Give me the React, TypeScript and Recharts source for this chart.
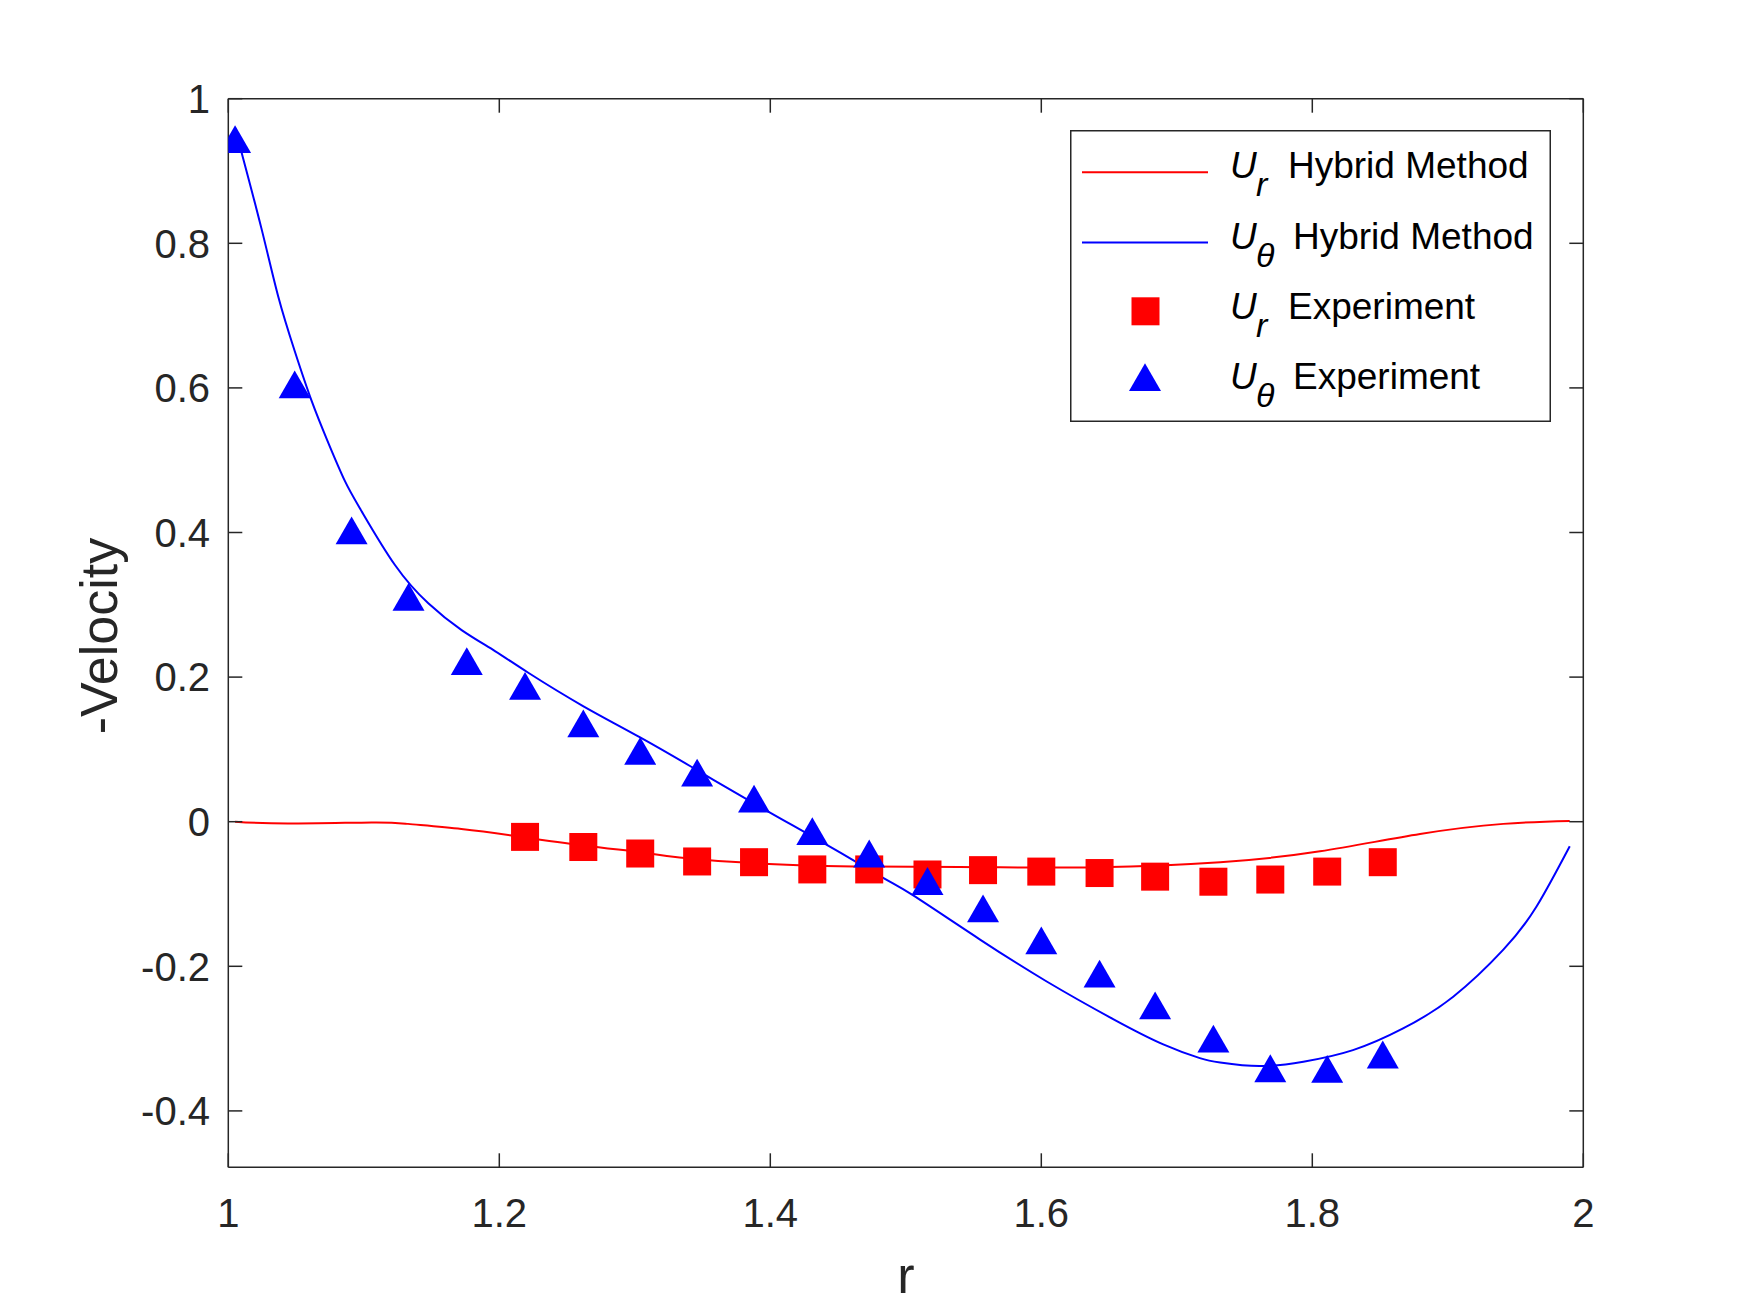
import React from 'react';
import { ComposedChart, Line, Scatter, XAxis, YAxis, Legend } from 'recharts';

const font = "'Liberation Sans', Arial, Helvetica, sans-serif";

const xTicks = [1, 1.2, 1.4, 1.6, 1.8, 2];
const yTicks = [-0.4, -0.2, 0, 0.2, 0.4, 0.6, 0.8, 1];

const legendOrder = ['U_r Hybrid Method', 'U_θ Hybrid Method', 'U_r Experiment', 'U_θ Experiment'];

// U_theta, hybrid method (blue curve)
const uThetaCurveR = [
  1.005, 1.0096, 1.0244, 1.0369, 1.049, 1.0613, 1.0738, 1.0861, 1.0985, 1.123, 1.1476,
  1.1722, 1.1968, 1.2214, 1.2618, 1.3036, 1.3417, 1.358, 1.3985, 1.4417, 1.4836, 1.5055,
  1.5548, 1.604, 1.653, 1.69, 1.717, 1.732, 1.761, 1.7934, 1.83, 1.867, 1.904, 1.941,
  1.9656, 1.99,
];
const uThetaCurveV = [
  0.96, 0.927, 0.821, 0.726, 0.651, 0.583, 0.524, 0.471, 0.429, 0.355, 0.302,
  0.265, 0.236, 0.206, 0.16, 0.117, 0.076, 0.058, 0.014, -0.032, -0.078, -0.102,
  -0.163, -0.221, -0.273, -0.308, -0.327, -0.333, -0.338, -0.332, -0.316, -0.286, -0.242, -0.177,
  -0.117, -0.034,
];

// U_r, hybrid method (red curve)
const uRCurveR = [
  1.005, 1.044, 1.1057, 1.1326, 1.172, 1.209, 1.262, 1.3036, 1.333, 1.395, 1.473,
  1.557, 1.643, 1.732, 1.8057, 1.8795, 1.941, 1.99,
];
const uRCurveV = [
  0, -0.0025, -0.001, -0.003, -0.01, -0.019, -0.033, -0.042, -0.0495, -0.058, -0.062,
  -0.063, -0.063, -0.056, -0.041, -0.017, -0.003, 0.001,
];

// experiment
const expR = [
  1.005, 1.049, 1.091, 1.133, 1.176, 1.219, 1.262, 1.304, 1.346, 1.388, 1.431,
  1.473, 1.516, 1.557, 1.6, 1.643, 1.684, 1.727, 1.769, 1.811, 1.852,
];
const uThetaExp = [
  0.944, 0.605, 0.403, 0.311, 0.222, 0.188, 0.136, 0.098, 0.068, 0.032, -0.013,
  -0.044, -0.082, -0.12, -0.164, -0.21, -0.254, -0.3, -0.341, -0.342, -0.322,
];
const uRExp = [
  -0.021, -0.035, -0.044, -0.055, -0.056, -0.066, -0.066, -0.073, -0.067, -0.069,
  -0.071, -0.076, -0.083, -0.08, -0.069, -0.056,
];

const zip = (rs: number[], vs: number[]) => rs.map((r, i) => ({ r, v: vs[i] }));

const uThetaCurve = zip(uThetaCurveR, uThetaCurveV);
const uRCurve = zip(uRCurveR, uRCurveV);
const uThetaPts = zip(expR, uThetaExp);
const uRPts = zip(expR.slice(expR.length - uRExp.length), uRExp);

const Square = (p: any) => (
  <rect x={p.cx - 14} y={p.cy - 14} width={28} height={28} fill="#ff0000" />
);
const Tri = (p: any) => (
  <polygon
    points={`${p.cx},${p.cy - 13.9} ${p.cx + 16},${p.cy + 13.9} ${p.cx - 16},${p.cy + 13.9}`}
    fill="#0000ff"
  />
);

// mirrored axes only need the inward tick marks
const NoLabel = () => <g />;

const YTitle = ({ viewBox }: any) => {
  const x = viewBox.x + viewBox.width - 111.6;
  const y = viewBox.y + viewBox.height / 2 + 3;
  return (
    <text x={x} y={y} transform={`rotate(-90 ${x} ${y})`} textAnchor="middle"
      fontSize={52} fill="#262626" fontFamily={font}>
      -Velocity
    </text>
  );
};

function LegendBox({ payload }: any) {
  const items = [...(payload ?? [])]
    .filter((e: any) => legendOrder.includes(e.value))
    .sort((a: any, b: any) => legendOrder.indexOf(a.value) - legendOrder.indexOf(b.value));
  return (
    <svg width={481} height={292} style={{ display: 'block' }}>
      <rect x={0.75} y={0.75} width={479.5} height={290.5} fill="#fff" stroke="#262626" strokeWidth={1.5} />
      {items.map((e: any, i: number) => {
        const base = 48.3 + i * 70.3;
        const m = String(e.value).match(/^U_(\S+) (.*)$/);
        const sub = m ? m[1] : '';
        const rest = m ? m[2] : String(e.value);
        let icon = null;
        if (e.type === 'line') {
          icon = <line x1={12} x2={138} y1={base - 6} y2={base - 6} stroke={e.color} strokeWidth={2} />;
        } else if (e.type === 'square') {
          icon = <Square cx={75.5} cy={base - 7.6} />;
        } else {
          icon = <Tri cx={75} cy={base - 12} />;
        }
        return (
          <g key={i}>
            {icon}
            <text x={160} y={base} fontSize={37} fontFamily={font} fill="#000">
              <tspan fontStyle="italic">U</tspan>
              <tspan fontStyle="italic" fontSize={34} x={186} dy={18}>{sub}</tspan>
              <tspan x={sub === 'r' ? 218 : 223} dy={-18}>{rest}</tspan>
            </text>
          </g>
        );
      })}
    </svg>
  );
}

export default function App() {
  const tickStyle = { fill: '#262626', fontSize: 40, fontFamily: font };
  return (
    <div style={{ position: 'absolute', left: 0, top: 0, width: 1750, height: 1313, background: '#fff' }}>
      <ComposedChart width={1750} height={1313} margin={{ top: 97.7, right: 165.7, bottom: 0, left: 0 }}>
        <XAxis
          type="number" dataKey="r" domain={[1, 2]} ticks={xTicks} interval={0}
          allowDataOverflow height={145.7} tickSize={-14} tickMargin={45.3}
          tick={tickStyle} stroke="#262626" strokeWidth={1.5}
          label={{ value: 'r', position: 'insideBottom', offset: 20, fill: '#262626', fontSize: 52, fontFamily: font }}
        />
        <XAxis
          xAxisId="top" orientation="top" type="number" dataKey="r" domain={[1, 2]} ticks={xTicks}
          allowDataOverflow interval={0} height={1} tickSize={-14} tick={NoLabel}
          stroke="#262626" strokeWidth={1.5}
        />
        <YAxis
          type="number" dataKey="v" domain={[-0.478, 1]} ticks={yTicks} interval={0}
          allowDataOverflow width={228.3} tickSize={-14} tickMargin={32.3}
          tick={tickStyle} stroke="#262626" strokeWidth={1.5} label={<YTitle />}
        />
        <YAxis
          yAxisId="right" orientation="right" type="number" dataKey="v" domain={[-0.478, 1]} ticks={yTicks}
          allowDataOverflow interval={0} width={1} tickSize={-14} tick={NoLabel}
          stroke="#262626" strokeWidth={1.5}
        />
        <Line data={uRCurve} dataKey="v" name="U_r Hybrid Method" type="natural"
          stroke="#ff0000" strokeWidth={2} dot={false} legendType="line" isAnimationActive={false} />
        <Line data={uThetaCurve} dataKey="v" name="U_θ Hybrid Method" type="natural"
          stroke="#0000ff" strokeWidth={2} dot={false} legendType="line" isAnimationActive={false} />
        {/* same curve on the mirrored axes, invisible, so they get ticks */}
        <Line data={uRCurve} dataKey="v" xAxisId="top" yAxisId="right" name="mirror"
          stroke="none" dot={false} legendType="none" isAnimationActive={false} />
        <Scatter data={uRPts} dataKey="v" name="U_r Experiment" fill="#ff0000"
          shape={Square} legendType="square" isAnimationActive={false} />
        <Scatter data={uThetaPts} dataKey="v" name="U_θ Experiment" fill="#0000ff"
          shape={Tri} legendType="triangle" isAnimationActive={false} />
        <Legend
          layout="vertical" align="center" verticalAlign="middle" content={<LegendBox />}
          wrapperStyle={{ left: 1070, top: 130, width: 481, height: 292 }}
        />
      </ComposedChart>
    </div>
  );
}
